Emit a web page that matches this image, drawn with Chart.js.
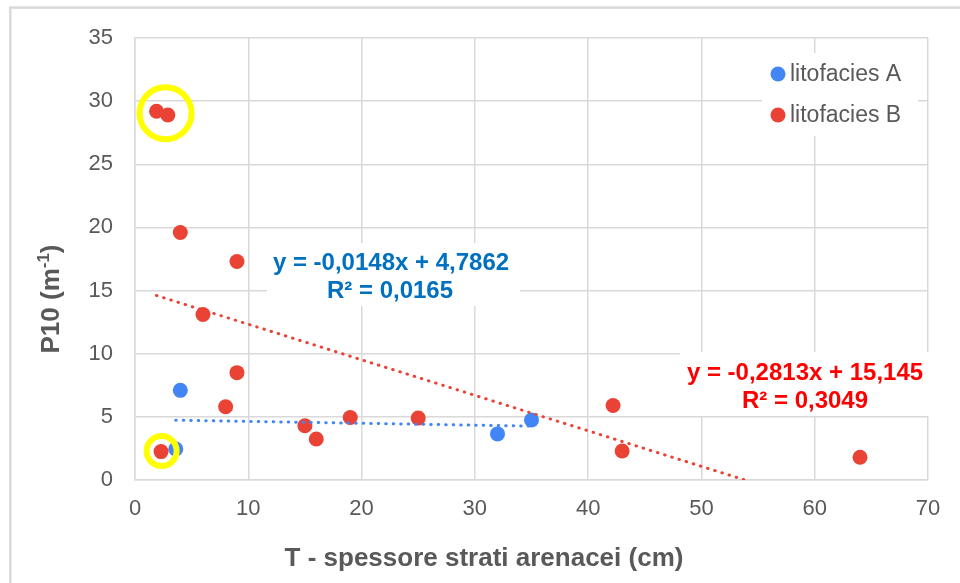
<!DOCTYPE html>
<html>
<head>
<meta charset="utf-8">
<script src="https://cdn.jsdelivr.net/npm/chart.js@4.4.1/dist/chart.umd.min.js"></script>
<style>
  html, body { margin: 0; padding: 0; background: #fff; overflow: hidden; }
  #wrap { width: 960px; height: 583px; }
</style>
</head>
<body>
<div id="wrap"><canvas id="scatter" width="960" height="583"></canvas></div>
<script>
// litofacies A / B: bed thickness T (cm) vs P10 (m-1)
const seriesNames = ['litofacies A', 'litofacies B'];
const tA = [4, 3.6, 32, 35];
const p10A = [7.1, 2.45, 3.65, 4.75];
const tB = [1.9, 2.9, 4, 9, 6, 9, 8, 15, 16, 19, 25, 42.2, 43, 64, 2.3];
const p10B = [29.2, 28.9, 19.6, 17.3, 13.1, 8.5, 5.8, 4.3, 3.25, 4.95, 4.9, 5.9, 2.3, 1.8, 2.25];
const xTickValues = [0, 10, 20, 30, 40, 50, 60, 70];
const yTickValues = [0, 5, 10, 15, 20, 25, 30, 35];

// linear trendlines (Excel)
const trendA = { slope: -0.0148, intercept: 4.7862, r2: 0.0165 };
const trendB = { slope: -0.2813, intercept: 15.145, r2: 0.3049 };

// circled points
const circledT = [2.7, 2.35];
const circledP10 = [29.05, 2.3];

const BLUE = '#4285F4';
const RED = '#EA4335';
const GREY = '#595959';
const GRID = '#D9D9D9';

const toPoints = (xs, ys) => xs.map((x, i) => ({ x: x, y: ys[i] }));
const trendPoints = (xs, t) => {
  const lo = Math.min(...xs), hi = Math.max(...xs);
  return [{ x: lo, y: t.slope * lo + t.intercept }, { x: hi, y: t.slope * hi + t.intercept }];
};
const fmt = v => String(v).replace('.', ',');
const eqText = t => 'y = ' + fmt(t.slope) + 'x + ' + fmt(t.intercept);
const r2Text = t => 'R\u00B2 = ' + fmt(t.r2);

const decorations = {
  id: 'decorations',
  beforeDraw(chart) {
    const ctx = chart.ctx;
    ctx.save();
    ctx.fillStyle = '#fff';
    ctx.fillRect(0, 0, chart.width, chart.height);
    ctx.strokeStyle = GRID;
    ctx.lineWidth = 2.5;
    ctx.strokeRect(10.3, 7.6, 2000, 2000);
    ctx.restore();
  },
  beforeDatasetsDraw(chart) {
    const ctx = chart.ctx;
    ctx.save();
    // legend box
    ctx.fillStyle = '#fff';
    ctx.fillRect(762, 53, 156, 83);
    ctx.font = '23px "Liberation Sans", Arial, sans-serif';
    ctx.textBaseline = 'middle';
    ctx.textAlign = 'left';
    [[seriesNames[0], BLUE, 74], [seriesNames[1], RED, 115]].forEach(([name, col, y]) => {
      ctx.fillStyle = col;
      ctx.beginPath();
      ctx.arc(778, y, 7.5, 0, Math.PI * 2);
      ctx.fill();
      ctx.fillStyle = GREY;
      ctx.fillText(name, 790, y + 1);
    });

    // trendline equations
    ctx.fillStyle = '#fff';
    ctx.fillRect(267, 243, 253, 63);
    ctx.fillRect(680, 352, 252, 64);
    ctx.font = 'bold 24px "Liberation Sans", Arial, sans-serif';
    ctx.textAlign = 'center';
    ctx.fillStyle = '#0070C0';
    ctx.fillText(eqText(trendA), 391, 263);
    ctx.fillText(r2Text(trendA), 390, 291);
    ctx.fillStyle = '#FF0000';
    ctx.fillText(eqText(trendB), 805, 373);
    ctx.fillText(r2Text(trendB), 805, 401);
    ctx.restore();
  },
  afterDraw(chart) {
    const ctx = chart.ctx;
    ctx.save();
    ctx.fillStyle = GREY;
    ctx.textBaseline = 'middle';
    ctx.textAlign = 'center';
    ctx.font = 'bold 26px "Liberation Sans", Arial, sans-serif';
    ctx.fillText('T - spessore strati arenacei (cm)', 484, 559);

    // y title with superscript
    const main = 'bold 26px "Liberation Sans", Arial, sans-serif';
    const sup = 'bold 17px "Liberation Sans", Arial, sans-serif';
    const parts = [['P10 (m', main, 0], ['-1', sup, -8], [')', main, 0]];
    let total = 0;
    parts.forEach(p => { ctx.font = p[1]; total += ctx.measureText(p[0]).width; });
    ctx.translate(52, 299);
    ctx.rotate(-Math.PI / 2);
    ctx.textAlign = 'left';
    let x = -total / 2;
    parts.forEach(p => {
      ctx.font = p[1];
      ctx.fillText(p[0], x, p[2]);
      x += ctx.measureText(p[0]).width;
    });
    ctx.restore();
  }
};

const dotted = color => ({
  showLine: true,
  borderColor: color,
  borderWidth: 3,
  borderDash: [0.5, 7],
  borderCapStyle: 'round',
  pointRadius: 0,
  fill: false
});

new Chart(document.getElementById('scatter'), {
  type: 'scatter',
  data: {
    datasets: [
      {
        label: 'cerchi',
        data: toPoints(circledT, circledP10),
        pointRadius: [26, 15],
        pointBorderWidth: 6,
        pointBorderColor: '#FFFF00',
        pointBackgroundColor: 'rgba(0,0,0,0)',
        order: -1
      },
      Object.assign({ label: 'trend A', data: trendPoints(tA, trendA), order: 0 }, dotted(BLUE)),
      Object.assign({ label: 'trend B', data: trendPoints(tB, trendB), order: 0 }, dotted(RED)),
      {
        label: seriesNames[1],
        data: toPoints(tB, p10B),
        pointRadius: 7.5,
        pointBorderWidth: 0,
        pointBackgroundColor: RED,
        order: 1
      },
      {
        label: seriesNames[0],
        data: toPoints(tA, p10A),
        pointRadius: 7.5,
        pointBorderWidth: 0,
        pointBackgroundColor: BLUE,
        order: 2
      }
    ]
  },
  options: {
    responsive: false,
    animation: false,
    devicePixelRatio: 1,
    events: [],
    layout: { padding: { top: 38, right: 25, left: 0, bottom: 0 } },
    plugins: {
      legend: { display: false },
      tooltip: { enabled: false }
    },
    scales: {
      x: {
        type: 'linear',
        min: xTickValues[0],
        max: xTickValues[xTickValues.length - 1],
        afterBuildTicks: s => { s.ticks = xTickValues.map(v => ({ value: v })); },
        afterFit: s => { s.height = 103; s.paddingLeft = 0; s.paddingRight = 0; },
        ticks: {
          color: GREY,
          font: { size: 22, family: '"Liberation Sans", Arial, sans-serif' },
          padding: 16
        },
        grid: { color: GRID, lineWidth: 1.5, drawTicks: false },
        border: { color: GRID, width: 1.5 }
      },
      y: {
        type: 'linear',
        min: yTickValues[0],
        max: yTickValues[yTickValues.length - 1],
        afterBuildTicks: s => { s.ticks = yTickValues.map(v => ({ value: v })); },
        afterFit: s => { s.width = 135; s.paddingTop = 0; s.paddingBottom = 0; },
        ticks: {
          color: GREY,
          font: { size: 22, family: '"Liberation Sans", Arial, sans-serif' },
          padding: 22
        },
        grid: { color: GRID, lineWidth: 1.5, drawTicks: false },
        border: { color: GRID, width: 1.5 }
      }
    }
  },
  plugins: [decorations]
});
</script>
</body>
</html>
